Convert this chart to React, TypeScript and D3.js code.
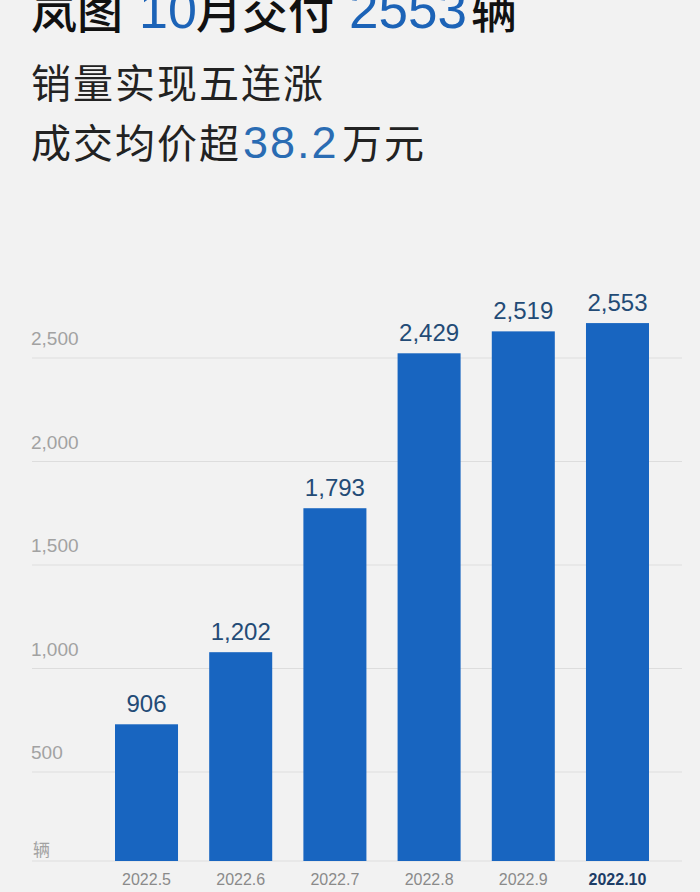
import React from "react";
import * as d3 from "d3";

const months: string[] = ["2022.5", "2022.6", "2022.7", "2022.8", "2022.9", "2022.10"];
const deliveries: number[] = [906, 1202, 1793, 2429, 2519, 2553];
const yTicks: number[] = [500, 1000, 1500, 2000, 2500];
const unitLabel = "辆";

const W = 700;
const H = 892;
const LATIN = "'Liberation Sans', Arial, 'Noto Sans CJK SC', sans-serif";
const CJK = "'Noto Sans CJK SC', 'Liberation Sans', sans-serif";
const BLUE = "#1c63b7";
const BAR = "#1865c0";

export default function App() {
  const x = d3.scaleBand<string>().domain(months).range([115, 649]).paddingInner(0.331).paddingOuter(0);
  const yGrid = d3.scaleLinear().domain([500, 2500]).range([772, 358]);
  const yBar = d3.scaleLinear().domain([0, 2500]).range([945, 336]);
  const baseY = 861;
  const fmt = d3.format(",");

  return (
    <svg width={W} height={H} style={{ position: "absolute", left: 0, top: 0, display: "block" }}>
      <rect x={0} y={0} width={W} height={H} fill="#f2f2f2" />

      {/* Title */}
      <text y={28} fontFamily={CJK} fontWeight={500} fontSize={46} fill="#111">
        <tspan x={31}>岚图</tspan>
        <tspan x={139} fill={BLUE} fontFamily={LATIN} fontWeight={400} fontSize={52}>10</tspan>
        <tspan x={196}>月交付</tspan>
        <tspan x={349} fill={BLUE} fontFamily={LATIN} fontWeight={400} fontSize={53}>2553</tspan>
        <tspan x={471}>辆</tspan>
      </text>
      <text x={31} y={98} fontFamily={CJK} fontWeight={400} fontSize={40} letterSpacing={2} fill="#222">
        销量实现五连涨
      </text>
      <text y={158} fontFamily={CJK} fontWeight={400} fontSize={40} fill="#222">
        <tspan x={31} letterSpacing={2}>成交均价超</tspan>
        <tspan x={243} fill="#2a6cb3" fontFamily={LATIN} fontSize={45} letterSpacing={2}>38.2</tspan>
        <tspan x={342} letterSpacing={2}>万元</tspan>
      </text>

      {/* Grid */}
      {yTicks.map((t) => (
        <g key={t}>
          <line x1={32} x2={682} y1={yGrid(t)} y2={yGrid(t)} stroke="#dddddd" strokeWidth={1.2} />
          <text x={31} y={yGrid(t) - 13} fontFamily={LATIN} fontSize={19} fill="#a2a2a2">
            {fmt(t)}
          </text>
        </g>
      ))}
      <line x1={32} x2={682} y1={baseY} y2={baseY} stroke="#dddddd" strokeWidth={1.2} />
      <text x={33} y={856} fontFamily={CJK} fontSize={17} fill="#a2a2a2">{unitLabel}</text>

      {/* Bars */}
      {months.map((m, i) => {
        const v = deliveries[i];
        const top = yBar(v);
        const bx = x(m) as number;
        const bw = x.bandwidth();
        return (
          <g key={m}>
            <rect x={bx} y={top} width={bw} height={baseY - top} fill={BAR} />
            <text
              x={bx + bw / 2}
              y={top - 12}
              textAnchor="middle"
              fontFamily={LATIN}
              fontSize={24}
              fill="#234b76"
            >
              {fmt(v)}
            </text>
            <text
              x={bx + bw / 2}
              y={885}
              textAnchor="middle"
              fontFamily={LATIN}
              fontSize={16}
              fontWeight={i === months.length - 1 ? 700 : 400}
              fill={i === months.length - 1 ? "#1d3d66" : "#8a8a8a"}
            >
              {m}
            </text>
          </g>
        );
      })}
    </svg>
  );
}
